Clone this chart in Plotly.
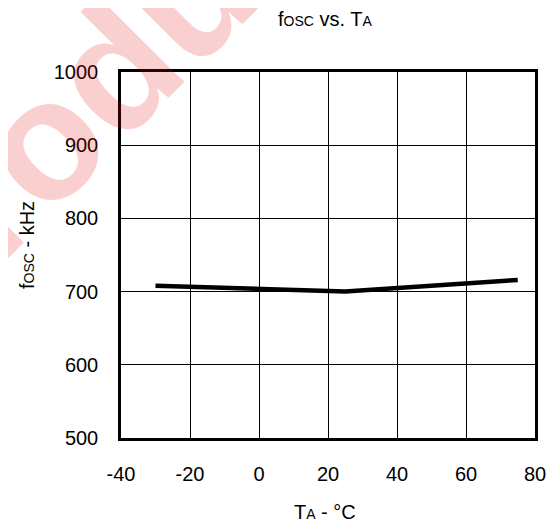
import plotly.graph_objects as go

# Data
temps_c = [-30, 25, 75]
fosc_khz = [708, 700, 716]

x_ticks = [-40, -20, 0, 20, 40, 60, 80]
y_ticks = [500, 600, 700, 800, 900, 1000]

OFF = 8  # default page body margin
W, H = 559 - OFF, 523 - OFF
L, R, T, B = 113, 24, 64, 85
pw, ph = W - L - R, H - T - B

def px(xp):
    return (xp - OFF - L) / pw

def py(yp):
    return (H - B - (yp - OFF)) / ph

fig = go.Figure()
fig.add_trace(go.Scatter(
    x=temps_c, y=fosc_khz, mode="lines",
    line=dict(color="black", width=4.5),
    showlegend=False, hoverinfo="skip",
))

font = "Liberation Sans, Arial, sans-serif"
FS = 20

fig.update_layout(
    width=W, height=H,
    margin=dict(l=L, r=R, t=T, b=B),
    paper_bgcolor="white", plot_bgcolor="white",
    font=dict(family=font, color="black", size=FS),
    xaxis=dict(
        range=[-40, 80], tickvals=x_ticks, ticktext=[str(v) for v in x_ticks],
        showgrid=True, gridcolor="black", gridwidth=1,
        showline=True, linecolor="black", linewidth=2.5, mirror=True,
        zeroline=False, ticks="", ticklabelstandoff=16,
        tickfont=dict(size=FS, family=font),
    ),
    yaxis=dict(
        range=[500, 1000], tickvals=y_ticks, ticktext=[str(v) for v in y_ticks],
        showgrid=True, gridcolor="black", gridwidth=1,
        showline=True, linecolor="black", linewidth=2.5, mirror=True,
        zeroline=False, ticks="", ticklabelstandoff=16,
        tickfont=dict(size=FS, family=font),
    ),
)

sm = "font-size:14px"
annotations = [
    # watermark
    dict(text="<b>Product</b>", x=px(104), y=py(79), xref="paper", yref="paper",
         showarrow=False, textangle=-45, xanchor="center", yanchor="middle",
         font=dict(size=170, color="rgba(230,0,0,0.19)", family=font)),
    # title
    dict(text=f"f<span style='{sm}'>OSC</span> vs. T<span style='{sm}'>A</span>",
         x=px(325), y=py(19), xref="paper", yref="paper", showarrow=False,
         xanchor="center", yanchor="middle", font=dict(size=FS, family=font)),
    # y title
    dict(text=f"f<span style='{sm}'>OSC</span> - kHz",
         x=px(27), y=py(245), xref="paper", yref="paper", showarrow=False,
         textangle=-90, xanchor="center", yanchor="middle",
         font=dict(size=FS, family=font)),
    # x title
    dict(text=f"T<span style='{sm}'>A</span> - °C",
         x=px(325), y=py(512), xref="paper", yref="paper", showarrow=False,
         xanchor="center", yanchor="middle", height=20, valign="middle",
         font=dict(size=FS, family=font)),
]
fig.update_layout(annotations=annotations)

fig.write_html("out.html")
